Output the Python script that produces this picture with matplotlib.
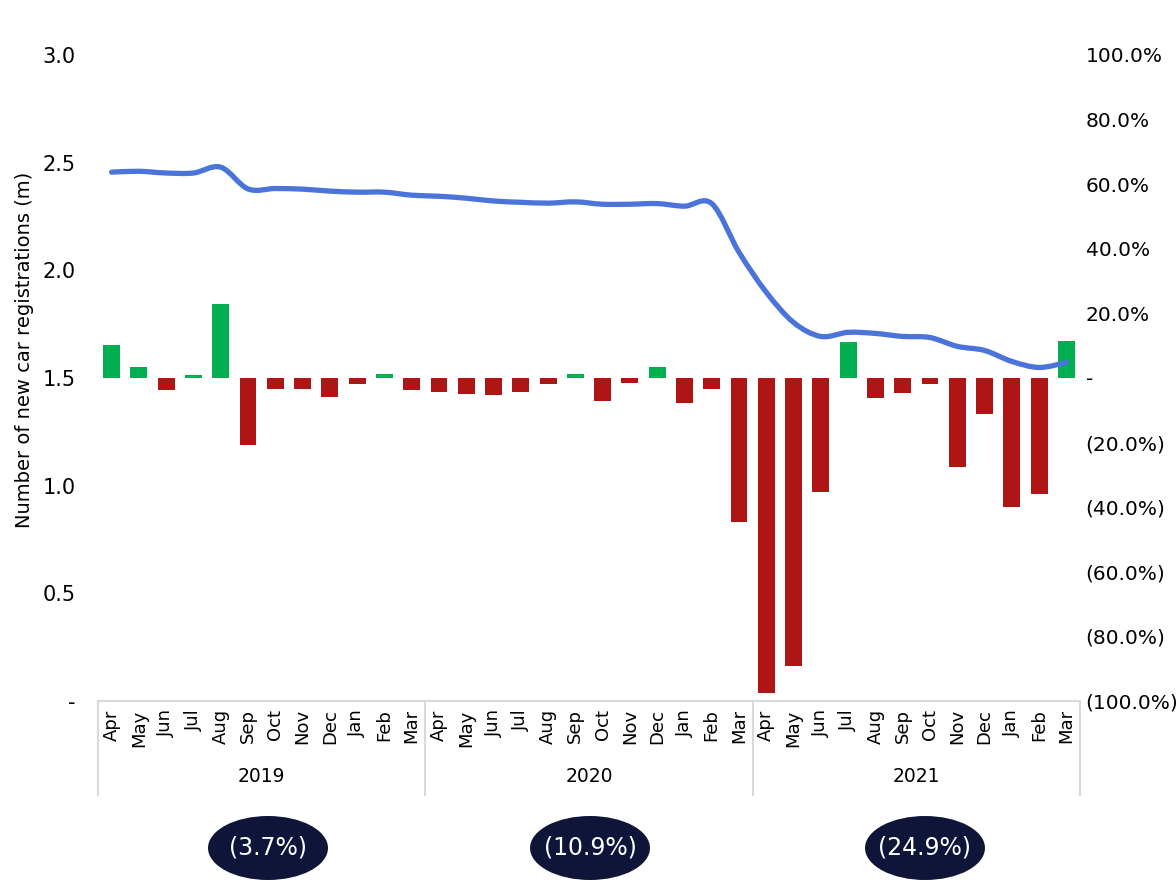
import numpy as np
import matplotlib
matplotlib.use("Agg")
import matplotlib.pyplot as plt
from matplotlib.path import Path
from matplotlib.patches import PathPatch, Ellipse
from matplotlib.transforms import blended_transform_factory

plt.rcParams['font.family'] = ['DejaVu Sans']

months = ['Apr', 'May', 'Jun', 'Jul', 'Aug', 'Sep', 'Oct', 'Nov', 'Dec', 'Jan', 'Feb', 'Mar']
years = ['2019', '2020', '2021']
year_change = ['(3.7%)', '(10.9%)', '(24.9%)']

# year-on-year monthly change (%)
yoy = [10.3, 3.4, -3.7, 1.0, 23.0, -20.8, -3.4, -3.4, -5.9, -1.9, 1.2, -3.7,
       -4.3, -5.0, -5.3, -4.3, -1.9, 1.2, -7.1, -1.5, 3.4, -7.8, -3.4, -44.7,
       -97.6, -89.3, -35.3, 11.2, -6.2, -4.7, -1.9, -27.6, -11.2, -40.0, -36.0, 11.5]

# rolling 12 month registrations (m)
regs = [2.456, 2.460, 2.452, 2.452, 2.479, 2.378, 2.380, 2.377, 2.368, 2.363, 2.363, 2.349,
        2.344, 2.335, 2.322, 2.316, 2.312, 2.318, 2.307, 2.307, 2.310, 2.298, 2.310, 2.084,
        1.898, 1.758, 1.693, 1.712, 1.707, 1.693, 1.688, 1.647, 1.628, 1.577, 1.549, 1.572]

green = '#00B050'
red = '#B01515'
blue = '#4A74DA'
navy = '#0E1538'
grey = '#D9D9D9'

fig = plt.figure(figsize=(11.76, 8.83), dpi=100)
ax = fig.add_axes([98/1176, 1-701/883, 982/1176, 646/883])
ax2 = ax.twinx()

x = np.arange(len(yoy))
colors = [green if v >= 0 else red for v in yoy]
ax.bar(x, yoy, width=0.62, color=colors, zorder=2)
ax.set_xlim(-0.5, len(yoy) - 0.5)
ax.set_ylim(-100, 100)
ax.set_yticks(np.arange(-100, 101, 20))
pct_labels = []
for t in np.arange(-100, 101, 20):
    if t == 0:
        pct_labels.append('-')
    elif t < 0:
        pct_labels.append('(%.1f%%)' % -t)
    else:
        pct_labels.append('%.1f%%' % t)
ax.set_yticklabels(pct_labels)
ax.tick_params(axis='y', length=0, pad=4, labelsize=14.5, left=False, labelleft=False,
               right=False, labelright=True)

ax.set_xticks(x)
ax.set_xticklabels(months * 3, rotation=90, fontsize=13)
ax.tick_params(axis='x', length=0, pad=6)
for s in ['top', 'left', 'right']:
    ax.spines[s].set_visible(False)
ax.spines['bottom'].set_color(grey)
ax.spines['bottom'].set_linewidth(1.5)

# registrations on the left-hand scale
ax2.set_ylim(0, 3.0)
ax2.set_yticks(np.arange(0, 3.01, 0.5))
ax2.set_yticklabels(['-', '0.5', '1.0', '1.5', '2.0', '2.5', '3.0'])
ax2.tick_params(axis='y', length=0, pad=16, labelsize=15, left=False, labelleft=True,
                right=False, labelright=False)
for s in ax2.spines.values():
    s.set_visible(False)

# smoothed line through the monthly points
pts = np.column_stack([x, regs]).astype(float)
verts = [pts[0]]
codes = [Path.MOVETO]
n = len(pts)
for i in range(n - 1):
    p0 = pts[max(i - 1, 0)]
    p1 = pts[i]
    p2 = pts[i + 1]
    p3 = pts[min(i + 2, n - 1)]
    verts += [p1 + (p2 - p0) / 6, p2 - (p3 - p1) / 6, p2]
    codes += [Path.CURVE4] * 3
ax2.add_patch(PathPatch(Path(verts, codes), fill=False, edgecolor=blue,
                        lw=3.8, capstyle='round', joinstyle='round', zorder=3))

# year groups under the month labels
tr = blended_transform_factory(ax.transData, fig.transFigure)
for k in range(4):
    xs = k * 12 - 0.5
    ax.plot([xs, xs], [1-703/883, 1-795/883], color=grey, lw=1.5,
            transform=tr, clip_on=False)
for k, yr in enumerate(years):
    ax.text(k * 12 + 5.5, 1-777/883, yr, transform=tr, ha='center', va='center',
            fontsize=13.5)

fig.text(25/1176, 1-350/883, 'Number of new car registrations (m)', rotation=90,
         ha='center', va='center', fontsize=14)

# annual change badges
for cx, lab in zip([268, 590, 925], year_change):
    fig.patches.append(Ellipse((cx/1176, 1-848/883), 120/1176, 64/883,
                               transform=fig.transFigure, facecolor=navy,
                               edgecolor='none'))
    fig.text(cx/1176, 1-848/883, lab, ha='center', va='center', color='white',
             fontsize=17)

fig.savefig('out.png', dpi=100)
